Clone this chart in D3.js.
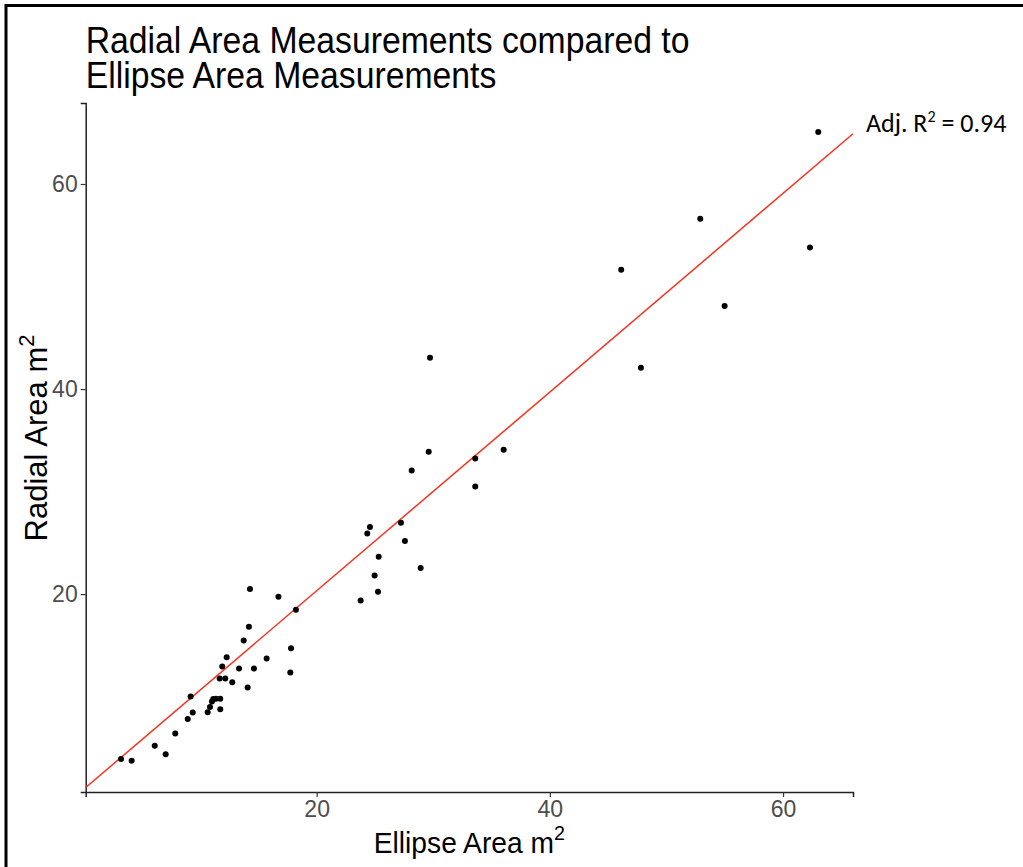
<!DOCTYPE html>
<html>
<head>
<meta charset="utf-8">
<script src="https://cdn.jsdelivr.net/npm/d3@7"></script>
<style>
  body { margin: 0; background: white; }
  svg { display: block; }
</style>
</head>
<body>
<div id="chart"></div>
<script>
// ellipse (x) vs radial (y) areas
let ellipseArea = [3.22, 4.13, 6.11, 7.05, 7.87, 8.94, 9.37, 9.19, 10.65, 10.85,
    11.02, 11.13, 11.36, 11.73, 11.73, 11.68, 12.16, 11.90, 12.28, 12.76,
    13.34, 13.74, 14.08, 14.19, 14.28, 14.62, 15.71, 16.72, 17.80, 17.74,
    18.22, 23.77, 24.34, 24.57, 24.97, 25.32, 25.26, 27.23, 27.57, 28.15,
    28.92, 29.61, 29.72, 33.60, 33.60, 36.04, 46.12, 47.81, 52.90, 54.99,
    62.31, 63.02];
let radialArea = [3.93, 3.74, 5.20, 4.39, 6.40, 7.83, 8.45, 10.01, 8.49, 8.98,
    9.52, 9.76, 9.79, 9.79, 8.78, 11.77, 11.77, 12.94, 13.85, 11.41,
    12.74, 15.47, 10.89, 16.81, 20.49, 12.74, 13.72, 19.74, 14.73, 12.35,
    18.47, 19.38, 25.91, 26.54, 21.81, 23.64, 20.22, 26.96, 25.17, 32.06,
    22.54, 33.88, 43.05, 33.23, 30.50, 34.08, 51.64, 42.08, 56.61, 48.10,
    53.81, 65.07];

// fitted line (lm) and its label
let fitIntercept = 0.95;
let fitSlope = 0.969;
let adjR2 = "0.94";

let xTicks = [20, 40, 60];
let yTicks = [20, 40, 60];
let xDomain = [0.19, 66.0];
let yDomain = [0.7, 67.9];

let points = ellipseArea.map((d, i) => ({ x: d, y: radialArea[i] }));

let width = 1023;
let height = 867;
let plot = { left: 85.7, right: 853, top: 103, bottom: 792 };
// the original screenshot is squeezed sideways a little
let squeeze = 0.9;
let sans = "'Liberation Sans', Arial, sans-serif";

let svg = d3.select("#chart")
    .append("svg")
    .attr("width", width)
    .attr("height", height);

// frame round the screenshot (top and left edges only)
svg.append("line")
    .attr("x1", 5).attr("x2", width).attr("y1", 5.5).attr("y2", 5.5)
    .attr("stroke", "black").attr("stroke-width", 3);
svg.append("line")
    .attr("x1", 6).attr("x2", 6).attr("y1", 4).attr("y2", height)
    .attr("stroke", "black").attr("stroke-width", 3);

let xScale = d3.scaleLinear().domain(xDomain).range([plot.left, plot.right]);
let yScale = d3.scaleLinear().domain(yDomain).range([plot.bottom, plot.top]);

let xAxis = d3.axisBottom(xScale).tickValues(xTicks).tickSizeOuter(0).tickSize(5).tickPadding(4);
let yAxis = d3.axisLeft(yScale).tickValues(yTicks).tickSizeOuter(0).tickSize(5).tickPadding(3);

let gx = svg.append("g")
    .attr("transform", `translate(0, ${plot.bottom})`)
    .call(xAxis);
let gy = svg.append("g")
    .attr("transform", `translate(${plot.left}, 0)`)
    .call(yAxis);

[gx, gy].forEach(g => {
    g.select(".domain").attr("stroke", "#222").attr("stroke-width", 1.5);
    g.selectAll(".tick line").attr("stroke", "#333").attr("stroke-width", 1.2);
    g.selectAll(".tick text")
        .attr("fill", "#4d4d4d")
        .style("font-family", sans)
        .style("font-size", "23px");
});

// regression line over the full x range
let fitLine = d3.line()
    .x(d => xScale(d))
    .y(d => yScale(fitIntercept + fitSlope * d));

svg.append("path")
    .datum(xDomain)
    .attr("d", fitLine)
    .attr("fill", "none")
    .attr("stroke", "#f8321e")
    .attr("stroke-width", 1.5);

// points
svg.append("g")
    .selectAll("circle")
    .data(points)
    .enter()
    .append("circle")
    .attr("cx", d => xScale(d.x))
    .attr("cy", d => yScale(d.y))
    .attr("r", 3)
    .attr("fill", "black");

// title, two lines
let title = svg.append("text")
    .attr("transform", `translate(${plot.left}, 0) scale(${squeeze}, 1)`)
    .style("font-family", sans)
    .style("font-size", "37.5px")
    .attr("fill", "black");
title.append("tspan").attr("x", 0).attr("y", 53).text("Radial Area Measurements compared to");
title.append("tspan").attr("x", 0).attr("y", 88).text("Ellipse Area Measurements");

// axis titles
let xLabel = svg.append("text")
    .attr("transform", `translate(${(plot.left + plot.right) / 2}, 853) scale(0.94, 1)`)
    .attr("text-anchor", "middle")
    .style("font-family", sans)
    .style("font-size", "30px");
xLabel.append("tspan").text("Ellipse Area m");
xLabel.append("tspan").attr("dy", -13).style("font-size", "21px").text("2");

let yLabel = svg.append("text")
    .attr("transform", `translate(47, 438) rotate(-90)`)
    .attr("text-anchor", "middle")
    .style("font-family", sans)
    .style("font-size", "31px");
yLabel.append("tspan").text("Radial Area m");
yLabel.append("tspan").attr("dy", -13).style("font-size", "22px").text("2");

// adj R squared note at the end of the line
let note = svg.append("text")
    .attr("x", 866)
    .attr("y", 132)
    .style("font-family", "Carlito, Calibri, 'Open Sans', sans-serif")
    .style("font-size", "26px");
note.append("tspan").text("Adj. R");
note.append("tspan").attr("dy", -10).style("font-size", "16px").text("2");
note.append("tspan").attr("dy", 10).text(" = " + adjR2);
</script>
</body>
</html>
